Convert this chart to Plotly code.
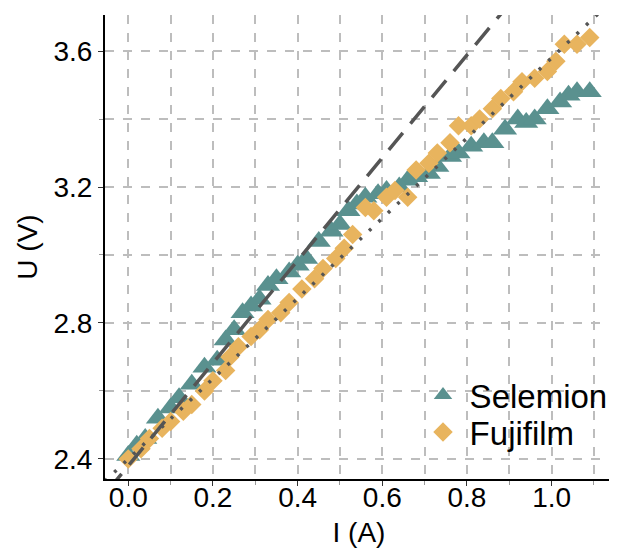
import plotly.graph_objects as go

# Selemion data
sel_I = [0.00, 0.02, 0.04, 0.07, 0.10, 0.12, 0.15, 0.18, 0.21, 0.23, 0.25, 0.27, 0.29, 0.31,
         0.33, 0.35, 0.38, 0.40, 0.42, 0.45, 0.48, 0.50, 0.52, 0.54, 0.56, 0.59, 0.61, 0.64,
         0.66, 0.68, 0.71, 0.73, 0.76, 0.78, 0.81, 0.84, 0.86, 0.89, 0.92, 0.94, 0.96, 0.99,
         1.02, 1.04, 1.06, 1.09]
sel_U = [2.41, 2.44, 2.46, 2.52, 2.55, 2.58, 2.62, 2.67, 2.69, 2.75, 2.78, 2.83, 2.85, 2.87,
         2.91, 2.93, 2.95, 2.97, 2.99, 3.04, 3.07, 3.09, 3.13, 3.15, 3.17, 3.18, 3.19, 3.20,
         3.22, 3.23, 3.24, 3.26, 3.29, 3.30, 3.32, 3.33, 3.33, 3.37, 3.40, 3.39, 3.40, 3.43,
         3.45, 3.47, 3.48, 3.48]

# Fujifilm data
fuj_I = [0.00, 0.03, 0.05, 0.08, 0.10, 0.13, 0.15, 0.18, 0.20, 0.23, 0.24, 0.26, 0.29, 0.31,
         0.33, 0.36, 0.38, 0.41, 0.44, 0.46, 0.49, 0.51, 0.53, 0.56, 0.58, 0.61, 0.63, 0.66,
         0.68, 0.71, 0.73, 0.76, 0.78, 0.81, 0.83, 0.86, 0.88, 0.91, 0.93, 0.96, 0.99, 1.01,
         1.03, 1.06, 1.09]
fuj_U = [2.40, 2.43, 2.46, 2.49, 2.51, 2.54, 2.56, 2.60, 2.63, 2.66, 2.70, 2.73, 2.76, 2.78,
         2.81, 2.83, 2.86, 2.90, 2.93, 2.96, 2.99, 3.02, 3.06, 3.14, 3.13, 3.17, 3.19, 3.17,
         3.25, 3.27, 3.30, 3.33, 3.38, 3.38, 3.40, 3.43, 3.46, 3.48, 3.51, 3.52, 3.54, 3.57,
         3.62, 3.62, 3.64]

# Linear fits (intercept, slope)
sel_fit = (2.38, 1.51)
fuj_fit = (2.40, 1.18)
fit_I = [-0.1, 1.2]

x_tickvals = [0.0, 0.2, 0.4, 0.6, 0.8, 1.0]
x_ticktext = ["0.0", "0.2", "0.4", "0.6", "0.8", "1.0"]
y_tickvals = [2.4, 2.8, 3.2, 3.6]
y_ticktext = ["2.4", "2.8", "3.2", "3.6"]

TEAL = "#5A918F"
ORANGE = "#E8B45E"
LINE = "#555555"
FONT = "Liberation Sans, Arial, sans-serif"

fig = go.Figure()
fig.add_trace(go.Scatter(x=sel_I, y=sel_U, mode="markers", name="\u2009Selemion",
                         legend="legend",
                         marker=dict(symbol="triangle-up", size=21, color=TEAL)))
fig.add_trace(go.Scatter(x=fuj_I, y=fuj_U, mode="markers", name="\u2009Fujifilm",
                         legend="legend2",
                         marker=dict(symbol="diamond", size=15, color=ORANGE)))
fig.add_trace(go.Scatter(x=fit_I, y=[sel_fit[0] + sel_fit[1] * i for i in fit_I], mode="lines",
                         line=dict(color=LINE, width=3.5, dash="22px,12px"), showlegend=False,
                         hoverinfo="skip"))
fig.add_trace(go.Scatter(x=fit_I, y=[fuj_fit[0] + fuj_fit[1] * i for i in fit_I], mode="lines",
                         line=dict(color=LINE, width=3.5, dash="3px,10px"), showlegend=False,
                         hoverinfo="skip"))

leg_common = dict(xanchor="left", yanchor="middle", font=dict(size=33),
                  bgcolor="rgba(0,0,0,0)", itemsizing="trace", itemwidth=30)
grid = dict(showgrid=True, gridcolor="#BDBDBD", gridwidth=1.5, griddash="dash")
fig.update_layout(
    width=609, height=540,
    margin=dict(l=97, r=4, t=7, b=69),
    plot_bgcolor="white", paper_bgcolor="white",
    font=dict(family=FONT, size=28, color="black"),
    legend=dict(x=0.626, y=0.181, **leg_common),
    legend2=dict(x=0.626, y=0.101, **leg_common),
    xaxis=dict(range=[-0.055, 1.145], tickvals=x_tickvals, ticktext=x_ticktext,
               title=dict(text="I (A)", font=dict(size=28), standoff=11),
               ticklabelstandoff=-13,
               showline=True, linecolor="black", linewidth=2, ticks="outside",
               ticklen=5, tickcolor="#333333", zeroline=False,
               minor=dict(dtick=0.1, showgrid=True, gridcolor="#BDBDBD", gridwidth=1.5,
                          griddash="dash", ticks="outside", ticklen=4, tickcolor="#999999"),
               **grid),
    yaxis=dict(range=[2.341, 3.706], tickvals=y_tickvals, ticktext=y_ticktext,
               title=dict(text="U (V)", font=dict(size=28), standoff=8),
               showline=True, linecolor="black", linewidth=2, ticks="outside",
               ticklen=5, tickcolor="#333333", zeroline=False,
               minor=dict(dtick=0.2, showgrid=True, gridcolor="#BDBDBD", gridwidth=1.5,
                          griddash="dash", ticks="outside", ticklen=4, tickcolor="#999999"),
               **grid),
)
fig.write_html("out.html")
